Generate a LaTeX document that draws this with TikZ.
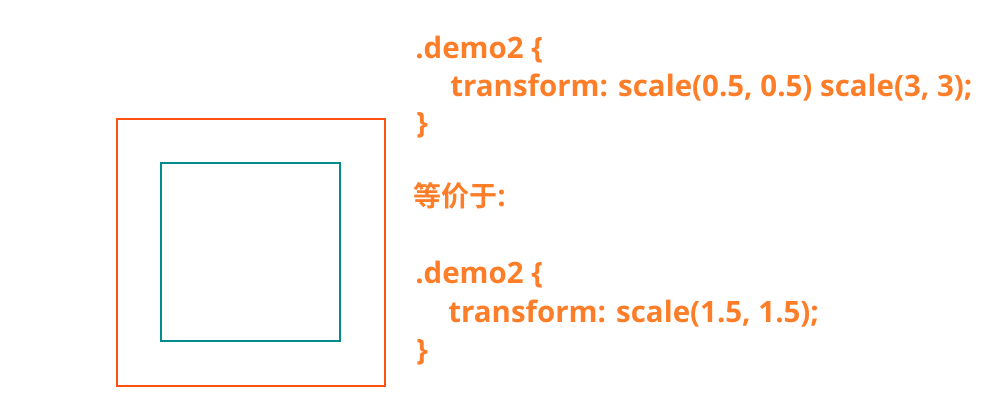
\documentclass[tikz,border=0pt]{standalone}
\usepackage{fontspec}
\setmainfont{Open Sans}
\newfontfamily\cjkfont{Noto Sans CJK SC}[BoldFont={* Bold}]
\definecolor{txtorange}{RGB}{253,125,40}
\definecolor{boxorange}{RGB}{255,80,20}
\definecolor{boxteal}{RGB}{0,140,140}
\begin{document}
\begin{tikzpicture}[x=0.75pt,y=-0.75pt,
  codetext/.style={anchor=base west,inner sep=0pt,text=txtorange,font=\fontsize{22.1pt}{26pt}\selectfont\bfseries}]
\useasboundingbox (0,0) rectangle (981,400);
\draw[boxorange,line width=1.1pt] (117,119) rectangle (385,386);
\draw[boxteal,line width=0.8pt] (161,163) rectangle (340,341);
\node[codetext] (l1) at (415,58) {.demo2 \{};
\node[codetext] (l2) at (450,96) {transform: scale(0.5, 0.5) scale(3, 3);};
\node[codetext] (l3) at (416,133) {\}};
\node[codetext] (l4) at (413,206) {{\cjkfont\fontsize{21pt}{24pt}\selectfont\bfseries 等价于}:};
\node[codetext] (l5) at (415,283) {.demo2 \{};
\node[codetext] (l6) at (448,322) {transform: scale(1.5, 1.5);};
\node[codetext] (l7) at (416,360) {\}};
\end{tikzpicture}
\end{document}
